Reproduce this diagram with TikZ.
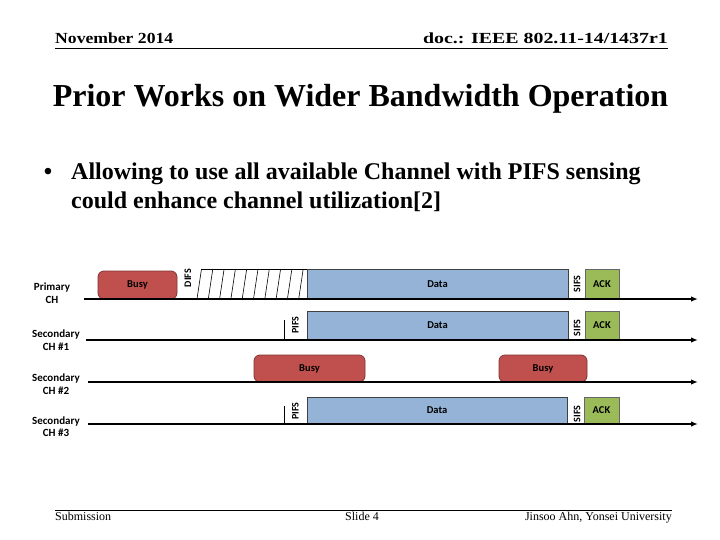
\documentclass[tikz,border=0pt]{standalone}
\usepackage{fontspec}
\setmainfont{Liberation Serif}
\newfontfamily\calfont{Carlito}
\usetikzlibrary{arrows.meta}
\definecolor{busyred}{HTML}{C0504D}
\definecolor{busyline}{HTML}{7F3230}
\definecolor{datablue}{HTML}{95B3D7}
\definecolor{ackgreen}{HTML}{9BBB59}
\tikzset{
  busybox/.style={draw=busyline, fill=busyred, rounded corners=6pt, line width=0.8pt, inner sep=0pt, font=\calfont\bfseries\fontsize{10.5}{12}\selectfont},
  databox/.style={draw=black!75, fill=datablue, line width=0.8pt, inner sep=0pt, font=\calfont\bfseries\fontsize{10.5}{12}\selectfont},
  ackbox/.style={draw=black!60, fill=ackgreen, line width=0.8pt, inner sep=0pt, font=\calfont\bfseries\fontsize{10.5}{12}\selectfont},
  ifs/.style={rotate=90, inner sep=0pt, font=\calfont\bfseries\fontsize{10}{12}\selectfont},
  chlabel/.style={align=center, inner sep=0pt, font=\calfont\bfseries\fontsize{11}{12.5}\selectfont},
  axis/.style={line width=1.8pt, -{Latex[length=7pt,width=5.5pt]}},
  tick/.style={line width=0.6pt},
  hatch/.style={line width=0.6pt},
  hdr/.style={inner sep=0pt, font=\bfseries\fontsize{14}{16}\selectfont},
  foot/.style={inner sep=0pt, font=\fontsize{12}{14}\selectfont},
}
\begin{document}
\begin{tikzpicture}[x=1pt,y=-1pt]
\useasboundingbox (0,0) rectangle (720,540);

% header
\node[hdr, anchor=base west] (hleft) at (55,43.5) {\scalebox{1.26}[1.1]{November 2014}};
\node[hdr, anchor=base east] (hright) at (668,43.5) {\scalebox{1.42}[1.1]{doc.: IEEE 802.11-14/1437r1}};
\coordinate (hl0) at (55,49); \coordinate (hl1) at (668,49);
\draw[line width=1pt] (hl0) -- (hl1);

% title
\node[inner sep=0pt, anchor=base, font=\bfseries\fontsize{32}{38}\selectfont] (title) at (360.5,106.5) {Prior Works on Wider Bandwidth Operation};

% bullet
\node[inner sep=0pt, anchor=base, font=\bfseries\fontsize{24}{28}\selectfont] (bul) at (48,180) {•};
\node[inner sep=0pt, anchor=base west, font=\bfseries\fontsize{24}{28}\selectfont] (b1) at (71,180) {Allowing to use all available Channel with PIFS sensing};
\node[inner sep=0pt, anchor=base west, font=\bfseries\fontsize{24}{28}\selectfont] (b2) at (71,208) {could enhance channel utilization[2]};

% channel labels
\node[chlabel] (lp) at (52,293) {Primary\\CH};
\node[chlabel] (ls1) at (56,340) {Secondary\\CH \#1};
\node[chlabel] (ls2) at (56,384) {Secondary\\CH \#2};
\node[chlabel] (ls3) at (56,426.5) {Secondary\\CH \#3};

% axes
\coordinate (p0) at (84,299); \coordinate (p1) at (698,299);
\coordinate (s10) at (86,340); \coordinate (s11) at (698,340);
\coordinate (s20) at (88,382); \coordinate (s21) at (698,382);
\coordinate (s30) at (88,424); \coordinate (s31) at (698,424);

% primary
\node[busybox, minimum width=79pt, minimum height=28pt] (busyp) at (137.5,285) {Busy};
\foreach \k in {0,...,9} {
  \draw[hatch] ({197+11.3*\k},299) -- ({201.5+11.3*\k},269);
}
\coordinate (ht0) at (201,269); \coordinate (ht1) at (307,269);
\draw[hatch] (ht0) -- (ht1);
\node[ifs] (difs) at (188,278) {DIFS};
\node[databox, minimum width=261pt, minimum height=30pt] (datap) at (437.5,284) {Data};
\node[ifs] (sifsp) at (577,284) {SIFS};
\node[ackbox, minimum width=34pt, minimum height=30pt] (ackp) at (602,284) {ACK};
\draw[axis] (p0) -- (p1);

% secondary 1
\coordinate (t10) at (284,320); \coordinate (t11) at (284,340);
\draw[tick] (t10) -- (t11);
\node[ifs] (pifs1) at (295.5,325) {PIFS};
\node[databox, minimum width=261pt, minimum height=29pt] (data1) at (437.5,325.5) {Data};
\node[ifs] (sifs1) at (577,328) {SIFS};
\node[ackbox, minimum width=34pt, minimum height=29pt] (ack1) at (602,325.5) {ACK};
\draw[axis] (s10) -- (s11);

% secondary 2
\node[busybox, minimum width=111pt, minimum height=27pt] (busy2a) at (309.5,368.5) {Busy};
\node[busybox, minimum width=88pt, minimum height=27pt] (busy2b) at (543,368.5) {Busy};
\draw[axis] (s20) -- (s21);

% secondary 3
\coordinate (t30) at (284,406); \coordinate (t31) at (284,424);
\draw[tick] (t30) -- (t31);
\node[ifs] (pifs3) at (295.5,411) {PIFS};
\node[databox, minimum width=260pt, minimum height=27pt] (data3) at (437,410.5) {Data};
\node[ifs] (sifs3) at (577,414) {SIFS};
\node[ackbox, minimum width=35pt, minimum height=27pt] (ack3) at (601.5,410.5) {ACK};
\draw[axis] (s30) -- (s31);

% footer
\coordinate (fl0) at (55,510); \coordinate (fl1) at (672,510);
\draw[line width=1pt] (fl0) -- (fl1);
\node[foot, anchor=base west] (fsub) at (55,520) {Submission};
\node[foot, anchor=base] (fslide) at (362,520) {Slide 4};
\node[foot, anchor=base east] (fauth) at (672,520) {Jinsoo Ahn, Yonsei University};
\end{tikzpicture}
\end{document}
